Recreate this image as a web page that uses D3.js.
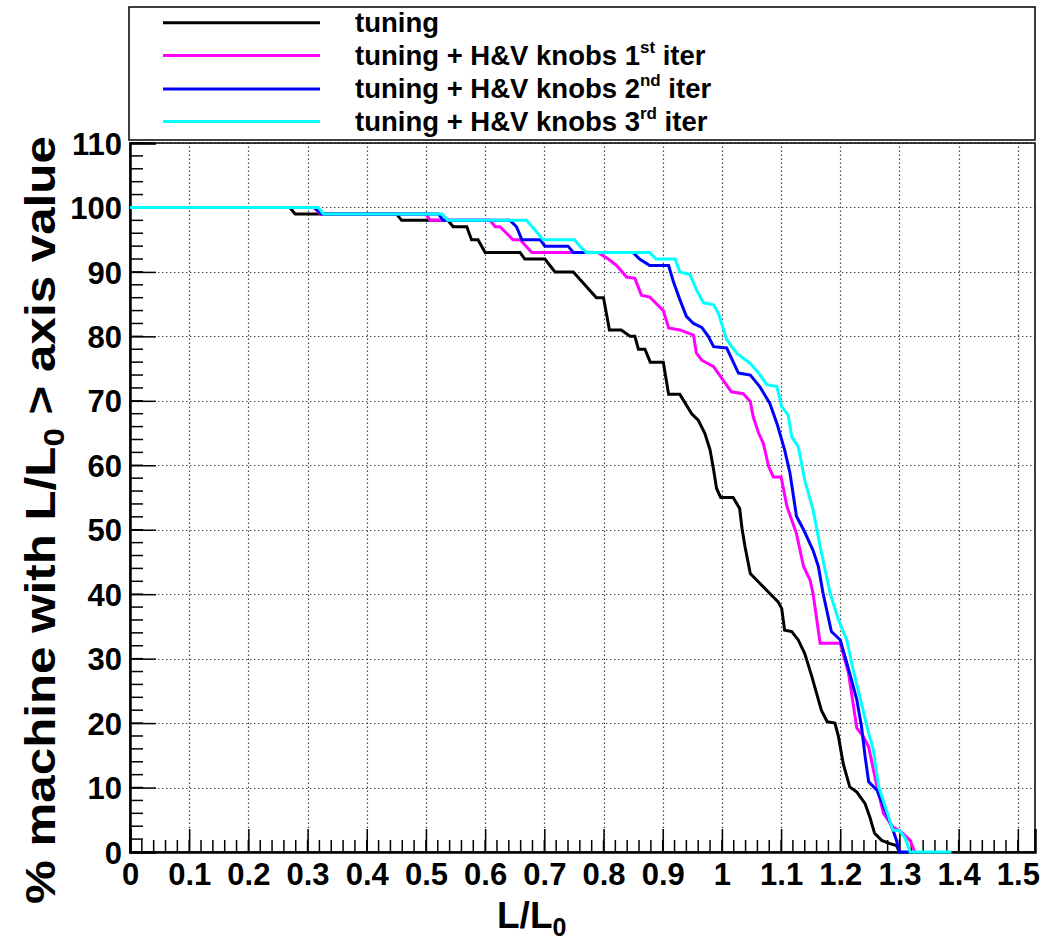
<!DOCTYPE html>
<html>
<head>
<meta charset="utf-8">
<script src="https://cdn.jsdelivr.net/npm/d3@7"></script>
<style>
  html, body { margin: 0; padding: 0; background: #fff; }
  svg { display: block; }
  text { font-family: "Liberation Sans", Arial, Helvetica, sans-serif; font-weight: bold; fill: #000; }
</style>
</head>
<body>
<svg id="chart" width="1057" height="950"></svg>
<script>
// Fraction of machines (in %) whose L/L0 exceeds the value on the x axis.
// Each series is a list of [L/L0, percent] vertices of the cumulative curve.
const tuning = [
  [0,100],[0.270,100],[0.279,99],[0.450,99],[0.459,98],[0.537,98],[0.546,97],[0.569,97],
  [0.577,95],[0.588,95],[0.600,93],[0.659,93],[0.667,92],[0.701,92],[0.718,90],[0.749,90],
  [0.788,86],[0.800,86],[0.810,81],[0.830,81],[0.845,80],[0.853,80],[0.859,78],[0.870,78],
  [0.879,76],[0.901,76],[0.910,71],[0.929,71],[0.949,68],[0.960,67],[0.971,65],[0.980,62.4],
  [0.986,59.3],[0.991,56.4],[0.998,55],[1.019,55],[1.030,53.3],[1.034,50.2],[1.039,47.4],
  [1.048,43.2],[1.064,41.7],[1.081,40.1],[1.095,38.8],[1.101,37.8],[1.106,34.4],[1.118,34.2],
  [1.129,32.9],[1.140,30.8],[1.152,27.2],[1.160,24.6],[1.168,22],[1.178,20.2],[1.191,20],
  [1.197,17.9],[1.205,13.7],[1.216,10.1],[1.228,9.3],[1.242,7.5],[1.250,5.4],[1.258,2.9],
  [1.270,1.8],[1.284,1.3],[1.295,1],[1.300,0]
];
const iter1 = [
  [0,100],[0.310,100],[0.322,99],[0.500,99],[0.507,98],[0.608,98],[0.617,97],[0.625,97],
  [0.647,95],[0.659,95],[0.679,93],[0.791,93],[0.808,92],[0.822,91],[0.839,89.2],[0.853,89],
  [0.864,86.4],[0.878,86.1],[0.901,84],[0.910,81.3],[0.929,81],[0.952,80.2],[0.957,77.4],
  [0.966,76.3],[0.986,75.3],[1.002,73.2],[1.016,71.4],[1.036,71.1],[1.048,69.9],[1.053,67.5],
  [1.062,65],[1.070,63.4],[1.079,59.8],[1.087,58.2],[1.100,58.2],[1.110,53.6],[1.126,49.4],
  [1.138,44.3],[1.149,42.2],[1.154,40.1],[1.166,32.4],[1.200,32.4],[1.214,27.7],[1.228,19.2],
  [1.239,17.9],[1.248,16.3],[1.262,10.1],[1.273,6],[1.289,3.9],[1.306,2.9],[1.318,1.8],[1.326,0]
];
const iter2 = [
  [0,100],[0.312,100],[0.324,99],[0.521,99],[0.529,98],[0.642,98],[0.653,97],[0.662,95],
  [0.693,95],[0.701,94],[0.740,94],[0.749,93],[0.850,93],[0.861,92],[0.878,91],[0.910,91],
  [0.918,88.5],[0.929,85.7],[0.940,83.1],[0.952,82],[0.966,81.4],[0.977,80],[0.986,78.4],
  [1.008,78.2],[1.028,74.3],[1.048,74],[1.064,72.2],[1.081,69.6],[1.093,66.5],[1.106,62.4],
  [1.115,58.8],[1.126,52.1],[1.138,50],[1.154,46.8],[1.163,44.3],[1.171,40.1],[1.185,34.2],
  [1.200,32.9],[1.216,27.7],[1.228,23.6],[1.236,19.4],[1.242,14.8],[1.248,10.9],[1.262,9.6],
  [1.276,6.5],[1.289,3.4],[1.295,1.8],[1.300,0],[1.318,0]
];
const iter3 = [
  [0,100],[0.318,100],[0.327,99],[0.527,99],[0.537,98],[0.670,98],[0.698,95],[0.751,95],
  [0.760,94],[0.771,93],[0.878,93],[0.889,92],[0.921,92],[0.929,90],[0.946,89.6],[0.957,87.2],
  [0.969,85.2],[0.986,84.9],[0.994,83.6],[1.008,79.5],[1.025,77.4],[1.048,75.8],[1.062,74.3],
  [1.076,72.5],[1.093,72.2],[1.101,69.1],[1.112,67.8],[1.118,64.4],[1.129,62.9],[1.140,57.7],
  [1.154,53.1],[1.166,47.4],[1.183,40.1],[1.197,36],[1.211,32.9],[1.222,28.2],[1.233,24.1],
  [1.248,18.4],[1.256,15.8],[1.265,10.1],[1.276,7],[1.289,3.4],[1.300,3.3],[1.309,2.3],
  [1.318,0],[1.388,0]
];

const seriesNames = ["tuning", "tuning + H&V knobs 1", "tuning + H&V knobs 2", "tuning + H&V knobs 3"];
const seriesSup   = ["", "st", "nd", "rd"];
const seriesTail  = ["", " iter", " iter", " iter"];
const seriesColors = ["#000000", "#ff00ff", "#0000ff", "#00ffff"];

const xTickValues = [0,0.1,0.2,0.3,0.4,0.5,0.6,0.7,0.8,0.9,1,1.1,1.2,1.3,1.4,1.5];
const xTickLabels = ["0","0.1","0.2","0.3","0.4","0.5","0.6","0.7","0.8","0.9","1","1.1","1.2","1.3","1.4","1.5"];
const yTickValues = [0,10,20,30,40,50,60,70,80,90,100,110];
const yTickLabels = ["0","10","20","30","40","50","60","70","80","90","100","110"];

const svg = d3.select("#chart");
const W = 1057, H = 950;
const frame = { left: 130, right: 1035, top: 143, bottom: 852 };

svg.append("rect").attr("width", W).attr("height", H).attr("fill", "#fff");

const x = d3.scaleLinear().domain([0, 1.529]).range([frame.left, frame.right]);
const y = d3.scaleLinear().domain([0, 110]).range([frame.bottom, frame.top]);

// dotted grid
const grid = svg.append("g").attr("stroke", "#444").attr("stroke-width", 1.2)
  .attr("stroke-dasharray", "1.4,2.6");
grid.selectAll("line.vx").data(xTickValues.filter(v => v > 0)).join("line")
  .attr("x1", d => Math.round(x(d)) + 0.5).attr("x2", d => Math.round(x(d)) + 0.5)
  .attr("y1", frame.bottom).attr("y2", frame.top);
grid.selectAll("line.hy").data(yTickValues.filter(v => v > 0)).join("line")
  .attr("y1", d => Math.round(y(d)) + 0.5).attr("y2", d => Math.round(y(d)) + 0.5)
  .attr("x1", frame.left).attr("x2", frame.right);

// frame
svg.append("rect")
  .attr("x", frame.left).attr("y", frame.top)
  .attr("width", frame.right - frame.left).attr("height", frame.bottom - frame.top)
  .attr("fill", "none").attr("stroke", "#000").attr("stroke-width", 1.5);

// axes: ticks point into the plot area
const xMinor = d3.range(0, 76).map(i => i * 0.02).filter(v => x(v) <= frame.right);
const xAxis = d3.axisBottom(x).tickValues(xTickValues)
  .tickFormat((d, i) => xTickLabels[i]).tickSize(-23).tickPadding(0);
const gx = svg.append("g").attr("transform", `translate(0,${frame.bottom})`).call(xAxis);
gx.select(".domain").attr("stroke", "#000").attr("stroke-width", 2.5);
gx.selectAll(".tick line").attr("stroke", "#000").attr("stroke-width", 1.5);
gx.selectAll(".tick text").attr("y", 33).attr("font-size", 31).attr("dy", 0)
  .style("font-family", "'Liberation Sans', Arial, sans-serif").style("font-weight", "bold");
svg.append("g").selectAll("line").data(xMinor).join("line")
  .attr("x1", d => x(d)).attr("x2", d => x(d))
  .attr("y1", frame.bottom).attr("y2", frame.bottom - 12)
  .attr("stroke", "#000").attr("stroke-width", 1.5);

const yMinor = d3.range(0, 56).map(i => i * 2);
const yAxis = d3.axisLeft(y).tickValues(yTickValues)
  .tickFormat((d, i) => yTickLabels[i]).tickSize(-26).tickPadding(8);
const gy = svg.append("g").attr("transform", `translate(${frame.left},0)`).call(yAxis);
gy.select(".domain").attr("stroke", "#000").attr("stroke-width", 2.5);
gy.selectAll(".tick line").attr("stroke", "#000").attr("stroke-width", 1.5);
gy.selectAll(".tick text").attr("x", -8).attr("dy", "0.36em").attr("font-size", 31)
  .style("font-family", "'Liberation Sans', Arial, sans-serif").style("font-weight", "bold");
svg.append("g").selectAll("line").data(yMinor).join("line")
  .attr("y1", d => y(d)).attr("y2", d => y(d))
  .attr("x1", frame.left).attr("x2", frame.left + 13)
  .attr("stroke", "#000").attr("stroke-width", 1.5);

// curves
const line = d3.line().x(d => x(d[0])).y(d => y(d[1]));
const series = [tuning, iter1, iter2, iter3];
svg.append("g").selectAll("path").data(series).join("path")
  .attr("d", line)
  .attr("fill", "none")
  .attr("stroke", (d, i) => seriesColors[i])
  .attr("stroke-width", 3)
  .attr("stroke-linejoin", "miter");

// legend
const legend = svg.append("g");
legend.append("rect").attr("x", 129).attr("y", 7).attr("width", 1035 - 129).attr("height", 133)
  .attr("fill", "#fff").attr("stroke", "#000").attr("stroke-width", 1.5);
const rowY = [22.7, 55.5, 89, 121.5];
seriesNames.forEach((name, i) => {
  legend.append("line").attr("x1", 163).attr("x2", 320)
    .attr("y1", rowY[i]).attr("y2", rowY[i])
    .attr("stroke", seriesColors[i]).attr("stroke-width", 3);
  const t = legend.append("text").attr("x", 355).attr("y", rowY[i] + 9).attr("font-size", 27.5);
  t.append("tspan").text(name);
  if (seriesSup[i]) {
    t.append("tspan").attr("font-size", 17).attr("dy", -12).text(seriesSup[i]);
    t.append("tspan").attr("dy", 12).text(seriesTail[i]);
  }
});

// axis titles
const xt = svg.append("text").attr("x", 497).attr("y", 928).attr("font-size", 37);
xt.append("tspan").text("L/L");
xt.append("tspan").attr("font-size", 25).attr("dy", 8).text("0");

// y title: glyphs stretched along the reading direction to span the axis
const yt = svg.append("text").attr("font-size", 43).attr("x", 0).attr("y", 0);
yt.append("tspan").text("% machine with L/L");
yt.append("tspan").attr("font-size", 29).attr("dy", 9).text("0");
yt.append("tspan").attr("dy", -9).text(" > axis value");
const ytLen = yt.node().getComputedTextLength();
const ytSpan = 904 - 136;
yt.attr("transform", `translate(55,904) rotate(-90) scale(${ytSpan / ytLen},1)`);
</script>
</body>
</html>
